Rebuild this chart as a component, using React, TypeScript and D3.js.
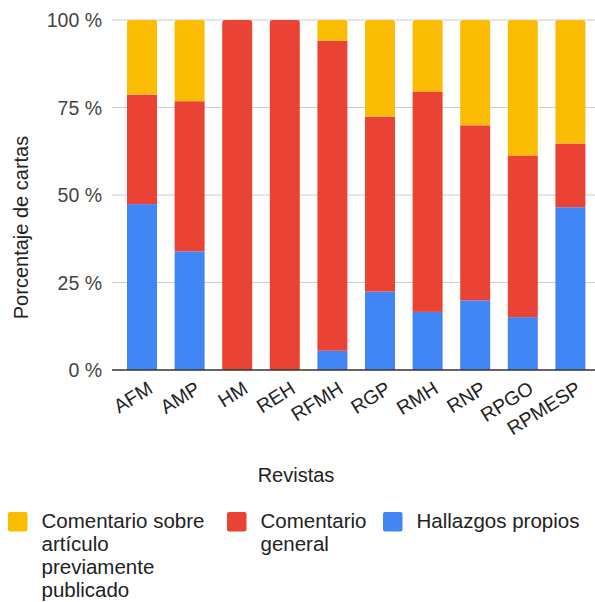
import React from "react";
import * as d3 from "d3";

const categories = ["AFM", "AMP", "HM", "REH", "RFMH", "RGP", "RMH", "RNP", "RPGO", "RPMESP"];
const hallazgos = [47.4, 33.9, 0, 0, 5.5, 22.4, 16.6, 19.9, 15.1, 46.5];
const comentarioGeneral = [31.3, 42.9, 100, 100, 88.6, 50.0, 63.0, 50.0, 46.2, 18.2];
const comentarioArticulo = [21.3, 23.2, 0, 0, 5.9, 27.6, 20.4, 30.1, 38.7, 35.3];
const yTicks = [0, 25, 50, 75, 100];
const seriesKeys = ["hallazgos", "general", "articulo"];
const seriesColors = ["#4285F4", "#EA4335", "#FBBC04"];
const legendItems = [
  { lines: ["Comentario sobre", "artículo", "previamente", "publicado"], color: "#FBBC04" },
  { lines: ["Comentario", "general"], color: "#EA4335" },
  { lines: ["Hallazgos propios"], color: "#4285F4" },
];

const W = 595;
const H = 602;
const FONT = "'Liberation Sans', Arial, sans-serif";

function topRounded(x: number, y: number, w: number, h: number, r: number) {
  const rr = Math.min(r, h / 2, w / 2);
  return `M${x},${y + h}V${y + rr}Q${x},${y} ${x + rr},${y}H${x + w - rr}Q${x + w},${y} ${x + w},${y + rr}V${y + h}Z`;
}

export default function App() {
  const rows = categories.map((c, i) => ({
    cat: c,
    hallazgos: hallazgos[i],
    general: comentarioGeneral[i],
    articulo: comentarioArticulo[i],
  }));
  const stacked = d3.stack<any>().keys(seriesKeys)(rows);

  const x = d3.scaleBand().domain(categories).range([118.2, 594.2]).paddingInner(0.37).paddingOuter(0.185);
  const y = d3.scaleLinear().domain([0, 100]).range([370, 20]);

  const legendX = [8, 227, 383];

  return (
    <svg width={W} height={H} style={{ position: "absolute", left: 0, top: 0, background: "#fff" }} fontFamily={FONT}>
      <rect x={0} y={0} width={W} height={H} fill="#fff" />
      {yTicks.map((t) => (
        <g key={t}>
          {t !== 0 && <line x1={112} x2={595} y1={y(t)} y2={y(t)} stroke="#cccccc" strokeWidth={1} />}
          <text x={102} y={y(t) + 7} textAnchor="end" fontSize={19.5} fill="#444">
            {`${t} %`}
          </text>
        </g>
      ))}
      {stacked.map((s, si) =>
        s.map((d, i) => {
          const x0 = x(categories[i])!;
          const bw = x.bandwidth();
          const y0 = y(d[1]);
          const h = y(d[0]) - y(d[1]);
          if (h <= 0.01) return null;
          const isTop = d[1] >= 99.95;
          return isTop ? (
            <path key={`${si}-${i}`} d={topRounded(x0, y0, bw, h, 2.5)} fill={seriesColors[si]} />
          ) : (
            <rect key={`${si}-${i}`} x={x0} y={y0} width={bw} height={h} fill={seriesColors[si]} />
          );
        })
      )}
      <line x1={112} x2={595} y1={y(0)} y2={y(0)} stroke="#333" strokeWidth={1.5} />
      {categories.map((c) => {
        const cx = x(c)! + x.bandwidth() / 2 + 12;
        const cy = 392;
        return (
          <text key={c} x={cx} y={cy} textAnchor="end" fontSize={19.5} fill="#222" transform={`rotate(-32 ${cx} ${cy})`}>
            {c}
          </text>
        );
      })}
      <text x={296} y={482} textAnchor="middle" fontSize={20} fill="#222">
        Revistas
      </text>
      <text x={28} y={227.5} textAnchor="middle" fontSize={20} fill="#222" transform="rotate(-90 28 227.5)">
        Porcentaje de cartas
      </text>
      {legendItems.map((it, i) => (
        <g key={i}>
          <rect x={legendX[i]} y={512} width={19.5} height={19.5} rx={2} fill={it.color} />
          <text x={legendX[i] + 33.5} y={528} fontSize={20.5} fill="#222">
            {it.lines.map((l, li) => (
              <tspan key={li} x={legendX[i] + 33.5} dy={li === 0 ? 0 : 23}>
                {l}
              </tspan>
            ))}
          </text>
        </g>
      ))}
    </svg>
  );
}
